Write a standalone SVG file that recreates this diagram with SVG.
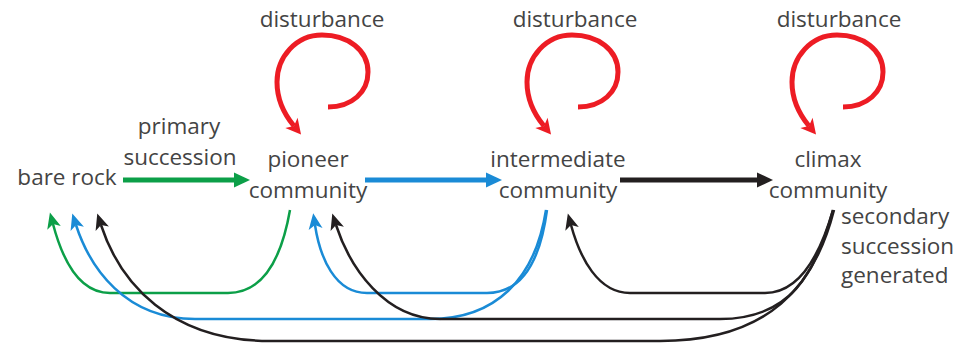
<svg xmlns="http://www.w3.org/2000/svg" width="958" height="345" viewBox="0 0 958 345">
<style>
text{font-family:"Open Sans","Liberation Sans",sans-serif;font-size:22.5px;fill:#444;text-anchor:middle}
.l{text-anchor:start}
.c{fill:none;stroke-width:2.5}
.s{fill:none;stroke-width:5}
.g{stroke:#0c9f48}.b{stroke:#1a8bd6}.k{stroke:#231f20}.r{stroke:#ed1c24;fill:none;stroke-width:5}
</style>
<defs>
<marker id="ag" markerUnits="userSpaceOnUse" markerWidth="18" markerHeight="16" refX="1" refY="7.5" orient="auto" overflow="visible"><path d="M0,0 L16,7.5 L0,15 z" fill="#0c9f48"/></marker>
<marker id="ab" markerUnits="userSpaceOnUse" markerWidth="18" markerHeight="16" refX="1" refY="7.5" orient="auto" overflow="visible"><path d="M0,0 L16,7.5 L0,15 z" fill="#1a8bd6"/></marker>
<marker id="ak" markerUnits="userSpaceOnUse" markerWidth="18" markerHeight="16" refX="1" refY="7.5" orient="auto" overflow="visible"><path d="M0,0 L16,7.5 L0,15 z" fill="#231f20"/></marker>
<marker id="cg" markerUnits="userSpaceOnUse" markerWidth="18" markerHeight="16" refX="4" refY="7" orient="auto" overflow="visible"><path d="M0,0 L16,7 L0,14 L4,7 z" fill="#0c9f48"/></marker>
<marker id="cb" markerUnits="userSpaceOnUse" markerWidth="18" markerHeight="16" refX="4" refY="7" orient="auto" overflow="visible"><path d="M0,0 L16,7 L0,14 L4,7 z" fill="#1a8bd6"/></marker>
<marker id="ck" markerUnits="userSpaceOnUse" markerWidth="18" markerHeight="16" refX="4" refY="7" orient="auto" overflow="visible"><path d="M0,0 L16,7 L0,14 L4,7 z" fill="#231f20"/></marker>
<marker id="ar" markerUnits="userSpaceOnUse" markerWidth="18" markerHeight="18" refX="4" refY="8" orient="auto" overflow="visible"><path d="M0,0 L15,8 L0,16 L4,8 z" fill="#ed1c24"/></marker>
</defs>

<g id="connectors">
  <path class="s g" d="M123,180 L235,180" marker-end="url(#ag)"/>
  <path class="s b" d="M365,180 L487,180" marker-end="url(#ab)"/>
  <path class="s k" d="M620,180 L758,180" marker-end="url(#ak)"/>

  <path class="c g" d="M290,210 C283,250 268,293 228,293 L110,293 C78,293 62,258 53,224" marker-end="url(#cg)"/>
  <path class="c b" d="M546,210 C535,280 495,319 430,319 L195,319 C125,319 90,268 76,225" marker-end="url(#cb)"/>
  <path class="c k" d="M834,210 C815,285 770,341 660,341 L270,341 C170,341 120,283 101,225" marker-end="url(#ck)"/>
  <path class="c b" d="M547,210 C541,255 525,293 487,293 L367,293 C335,293 320,258 315,225" marker-end="url(#cb)"/>
  <path class="c k" d="M833,210 C815,275 790,319 720,319 L440,319 C385,319 350,268 336,225" marker-end="url(#ck)"/>
  <path class="c k" d="M833,210 C820,255 800,293 765,293 L630,293 C598,293 580,258 571,225" marker-end="url(#ck)"/>

  <path class="r" d="M328,107 C352,107 368,92 368,72 C368,50 348,35 322,35 C296,35 277,57 277,82 C277,100 284,114 294,126" marker-end="url(#ar)"/>
  <path class="r" d="M578,107 C602,107 618,92 618,72 C618,50 598,35 572,35 C546,35 527,57 527,82 C527,100 534,114 544,126" marker-end="url(#ar)"/>
  <path class="r" d="M843,107 C867,107 883,92 883,72 C883,50 863,35 837,35 C811,35 792,57 792,82 C792,100 799,114 809,126" marker-end="url(#ar)"/>
</g>

<g id="bare-rock"><text x="67" y="185">bare rock</text></g>
<g id="primary-succession"><text x="179" y="134">primary</text><text x="180" y="165">succession</text></g>
<g id="pioneer"><text x="308" y="167">pioneer</text><text x="308" y="198">community</text></g>
<g id="intermediate"><text x="558" y="167">intermediate</text><text x="558" y="198">community</text></g>
<g id="climax"><text x="828" y="167">climax</text><text x="828" y="198">community</text></g>
<g id="secondary-succession"><text class="l" x="841" y="224">secondary</text><text class="l" x="841" y="254">succession</text><text class="l" x="841" y="283">generated</text></g>
<g id="disturbance-1"><text x="322" y="27">disturbance</text></g>
<g id="disturbance-2"><text x="575" y="27">disturbance</text></g>
<g id="disturbance-3"><text x="839" y="27">disturbance</text></g>
</svg>
